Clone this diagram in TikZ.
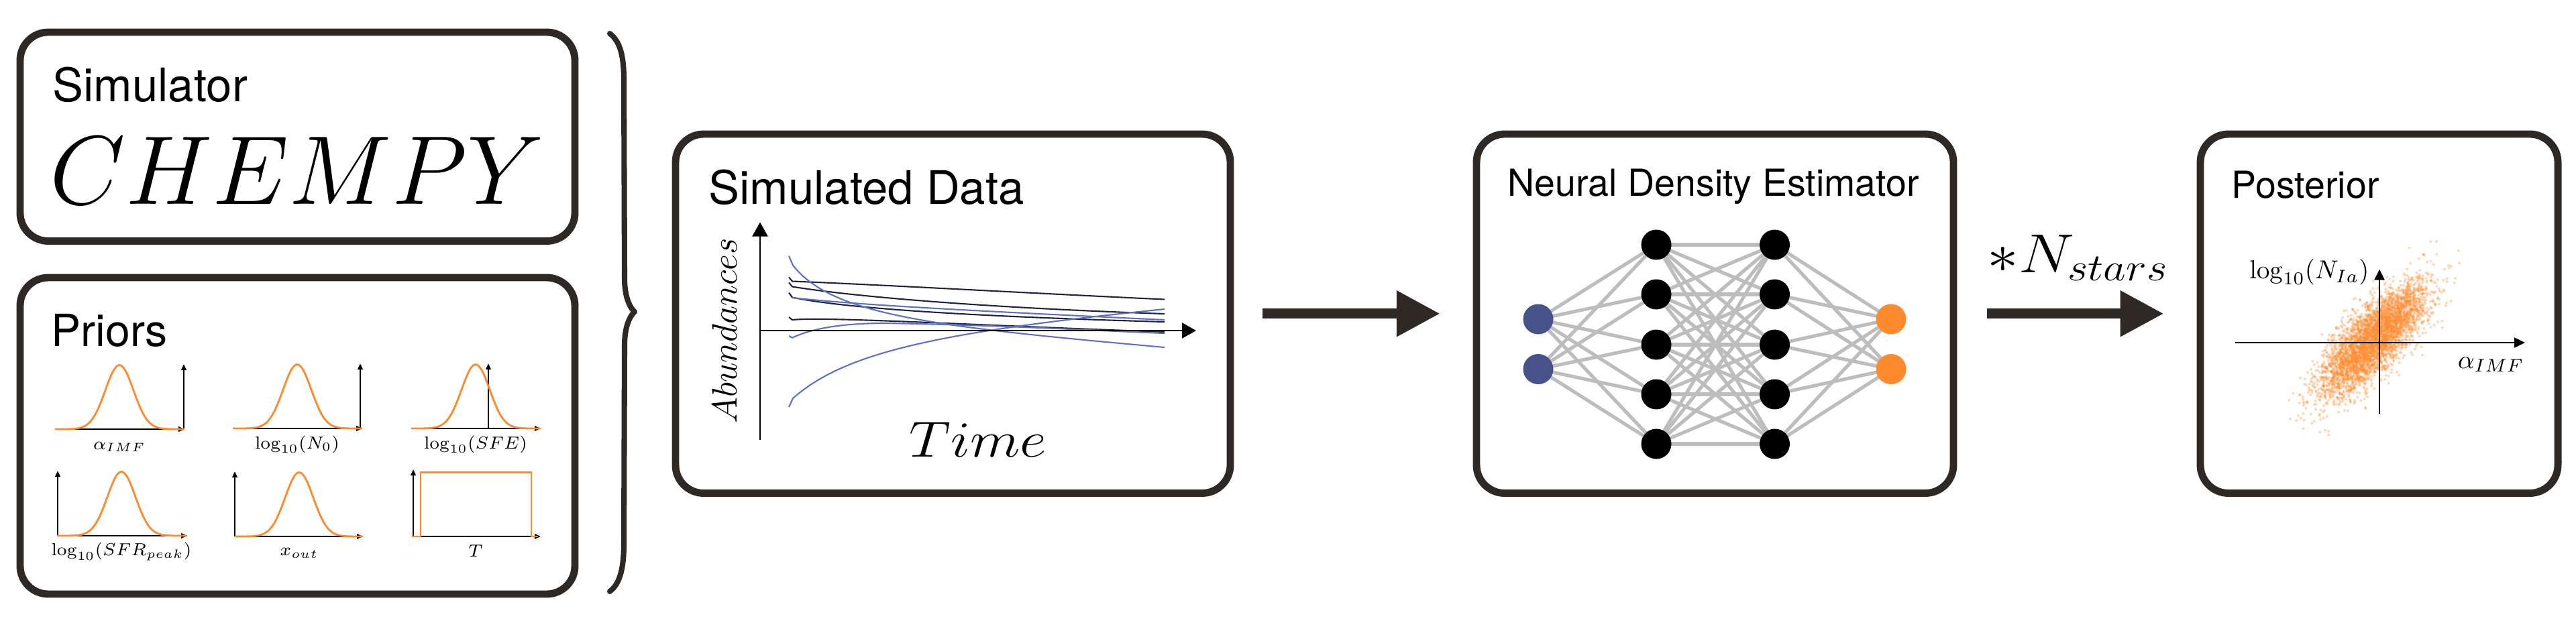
\RequirePackage{fix-cm}
\documentclass[tikz,border=0pt]{standalone}
\usepackage[no-math]{fontspec}
\setmainfont{TeX Gyre Heros}
\usepackage{tikz}
\usetikzlibrary{
	arrows.meta,
	backgrounds
}

\definecolor{boxgray}{HTML}{2F2926}
\definecolor{priororange}{HTML}{FF8A2E}
\definecolor{inblue}{HTML}{47528A}
\definecolor{linkgray}{HTML}{BDBDBD}
\definecolor{curvenavy}{HTML}{1E2340}
\definecolor{curveblue}{HTML}{5D70C8}

\begin{document}
\begin{tikzpicture}[
  panel/.style={draw=boxgray, line width=3.1pt, rounded corners=0.42cm, inner sep=0pt},
  bigtitle/.style={font=\fontsize{19.6}{23}\selectfont, anchor=base west, inner sep=0pt},
  smalltitle/.style={font=\fontsize{15.8}{19}\selectfont, anchor=base west, inner sep=0pt},
  bigarrow/.style={draw=boxgray, line width=0.15cm, -{Triangle[length=0.65cm, width=0.65cm]}},
  prioraxis/.style={line width=0.7pt, -{Triangle[length=0.09cm, width=0.075cm]}},
  priorcurve/.style={draw=priororange, line width=0.8pt},
  priorlabel/.style={font=\fontsize{7.4}{9}\selectfont, anchor=base, inner sep=0pt},
  dataaxis/.style={line width=0.7pt, -{Triangle[length=0.21cm, width=0.23cm]}},
  postaxis/.style={line width=0.6pt, -{Triangle[length=0.16cm, width=0.15cm]}},
  track/.style={line width=0.6pt},
  neuron/.style={circle, minimum size=0.45cm, inner sep=0pt},
  link/.style={draw=linkgray, line width=1.45pt}
]
\useasboundingbox (0,0) rectangle (38.4,-9.49);

% Panels
\node[panel, minimum width=8.27cm, minimum height=3.115cm] (sim) at (4.435,-2.0375) {};
\node[panel, minimum width=8.27cm, minimum height=4.72cm] (priors) at (4.435,-6.50) {};
\node[panel, minimum width=8.27cm, minimum height=5.355cm] (simdata) at (14.205,-4.6775) {};
\node[panel, minimum width=7.11cm, minimum height=5.355cm] (nde) at (25.565,-4.6775) {};
\node[panel, minimum width=5.33cm, minimum height=5.355cm] (post) at (35.465,-4.6775) {};

% Simulator
\node[bigtitle] (simtitle) at (0.78,-1.51) {Simulator};
\node[font=\fontsize{41.5}{48}\selectfont, anchor=base west, inner sep=0pt] (chempy) at (0.74,-3.04) {$CHEMPY$};

% Priors
\node[bigtitle, font=\fontsize{18.8}{22}\selectfont] (priortitle) at (0.76,-5.16) {Priors};
\foreach \xa/\xb/\xy/\mu/\yb/\yl/\lab [count=\k] in {
  0.82/2.75/2.74/1.78/-6.40/-6.70/{$\alpha_{IMF}$},
  3.47/5.40/5.37/4.43/-6.39/-6.69/{$\log_{10}(N_0)$},
  6.13/8.06/7.28/7.09/-6.39/-6.69/{$\log_{10}(SFE)$},
  0.85/2.79/0.86/1.81/-7.99/-8.285/{$\log_{10}(SFR_{peak})$},
  3.50/5.41/3.50/4.46/-8.00/-8.285/{$x_{out}$}}
{
  \draw[prioraxis] (\xa,\yb) -- (\xb,\yb);
  \draw[prioraxis] (\xy,\yb) -- (\xy,\yb+0.97);
  \draw[priorcurve] plot[domain=\xa:\xb, samples=80, variable=\t] (\t,{\yb+0.955*exp(-(\t-\mu)^2/0.0882)});
  \node[priorlabel] (prior\k) at (\mu,\yl) {\lab};
}
\draw[prioraxis] (6.14,-8.00) -- (8.06,-8.00);
\draw[prioraxis] (6.16,-8.00) -- (6.16,-7.00);
\draw[priorcurve] (6.14,-8.00) -- (6.27,-8.00) -- (6.27,-7.045) -- (7.92,-7.045) -- (7.92,-8.00) -- (8.02,-8.00);
\node[priorlabel] (prior6) at (7.09,-8.30) {$T$};

% Brace
\draw[boxgray, line width=2.3pt, line cap=round, line join=round]
  (9.09,-0.50) .. controls (9.25,-0.62) and (9.30,-0.85) .. (9.30,-1.20) -- (9.31,-4.15)
  .. controls (9.31,-4.45) and (9.40,-4.60) .. (9.46,-4.65)
  .. controls (9.40,-4.70) and (9.31,-4.85) .. (9.31,-5.15) -- (9.30,-8.10)
  .. controls (9.30,-8.45) and (9.25,-8.70) .. (9.09,-8.82);

% Simulated data
\node[bigtitle] (datatitle) at (10.56,-3.04) {Simulated Data};
\draw[curvenavy, track] (11.76,-4.135) -- (11.81,-4.195) .. controls (13.0,-4.24) and (15.5,-4.38) .. (17.36,-4.465);
\draw[curvenavy, track] (11.76,-4.215) -- (11.81,-4.275) .. controls (12.9,-4.45) and (15.0,-4.60) .. (17.36,-4.68);
\draw[curvenavy, track] (11.76,-4.365) -- (11.81,-4.435) .. controls (12.6,-4.60) and (14.5,-4.72) .. (17.36,-4.80);
\draw[curvenavy, track] (11.76,-4.73) -- (11.81,-4.77) .. controls (12.3,-4.72) and (14.5,-4.85) .. (17.36,-4.95);
\draw[curveblue, track] (11.81,-4.44) .. controls (12.8,-4.55) and (14.6,-4.64) .. (17.36,-4.77);
\draw[curveblue, track] (11.76,-5.01) -- (11.81,-5.037) .. controls (12.2,-4.85) and (12.8,-4.82) .. (13.2,-4.82)
  .. controls (15.0,-4.85) and (16.5,-4.94) .. (17.36,-4.97);
\draw[curveblue, track] (11.76,-3.817) -- (11.82,-3.956) .. controls (12.40,-4.70) and (13.90,-4.87) .. (17.36,-5.18);
\draw[curveblue, track] (11.76,-6.07) -- (11.82,-5.94) .. controls (12.6,-5.25) and (14.0,-4.95) .. (17.36,-4.61);
\draw[dataaxis] (11.33,-6.56) -- (11.33,-3.315);
\draw[dataaxis] (11.33,-4.93) -- (17.83,-4.93);
\node[font=\fontsize{15}{18}\selectfont, rotate=90, anchor=base, inner sep=0pt] (abund) at (10.98,-4.93) {$Abundances$};
\node[font=\fontsize{21.5}{26}\selectfont, anchor=base, inner sep=0pt, xscale=1.15] (time) at (14.58,-6.81) {$Time$};

% Neural density estimator
\node[smalltitle] (ndetitle) at (22.47,-2.92) {Neural Density Estimator};
\foreach \n/\y in {1/4.76, 2/5.505} {
  \node[neuron, fill=inblue] (in\n) at (22.93,-\y) {};
  \node[neuron, fill=priororange] (out\n) at (28.19,-\y) {};
}
\foreach \n/\y in {1/3.65, 2/4.39, 3/5.14, 4/5.88, 5/6.62} {
  \node[neuron, fill=black] (ha\n) at (24.69,-\y) {};
  \node[neuron, fill=black] (hb\n) at (26.455,-\y) {};
}
\begin{pgfonlayer}{background}
\foreach \j in {1,...,5} {
  \foreach \i in {1,2} {
    \draw[link] (in\i.center) -- (ha\j.center);
    \draw[link] (hb\j.center) -- (out\i.center);
  }
  \foreach \k in {1,...,5}
    \draw[link] (ha\j.center) -- (hb\k.center);
}
\end{pgfonlayer}

% Arrows between panels
\draw[bigarrow, shorten <=0.425cm, shorten >=0.488cm] (simdata) -- (nde);
\draw[bigarrow, shorten <=0.445cm, shorten >=0.49cm] (nde) -- (post);
\node[font=\fontsize{23.3}{28}\selectfont, anchor=base west, inner sep=0pt, xscale=1.14] (nstars) at (29.62,-4.06) {$*N_{stars}$};

% Posterior
\node[smalltitle] (posttitle) at (33.26,-2.95) {Posterior};
\pgfmathsetseed{7}
\begin{scope}[fill=priororange, fill opacity=0.35]
\foreach \i in {1,...,4200} {
  \pgfmathsetmacro{\ua}{0.001+0.999*rnd}
  \pgfmathsetmacro{\ub}{rnd}
  \pgfmathsetmacro{\ra}{sqrt(-2*ln(\ua))}
  \pgfmathsetmacro{\ga}{0.54*\ra*cos(360*\ub)}
  \pgfmathsetmacro{\gb}{0.2*\ra*sin(360*\ub)}
  \fill ({35.38+\ga*cos(47)-\gb*sin(47)},{-5.06+\ga*sin(47)+\gb*cos(47)}) circle (0.02);
}
\end{scope}
\draw[postaxis] (33.32,-5.11) -- (37.64,-5.11);
\draw[postaxis] (35.47,-6.17) -- (35.47,-4.015);
\node[font=\fontsize{11}{13}\selectfont, anchor=base east, inner sep=0pt] (postylab) at (35.32,-4.155) {$\log_{10}(N_{Ia})$};
\node[font=\fontsize{11}{13}\selectfont, anchor=base east, inner sep=0pt] (postxlab) at (37.63,-5.49) {$\alpha_{IMF}$};

\end{tikzpicture}
\end{document}
